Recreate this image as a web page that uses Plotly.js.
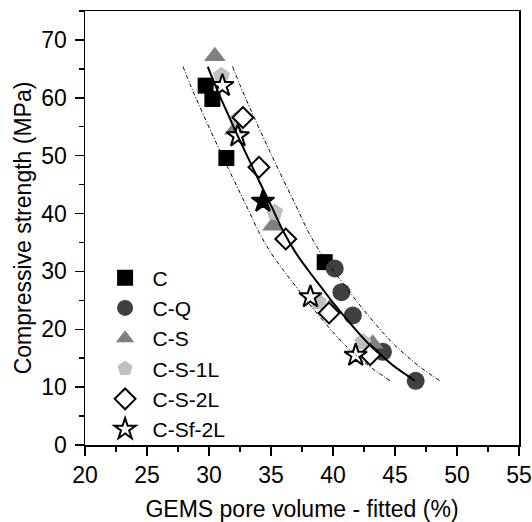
<!DOCTYPE html>
<html><head><meta charset="utf-8">
<script src="https://cdn.plot.ly/plotly-3.0.1.min.js"></script>
<style>html,body{margin:0;padding:0;background:#fff}</style>
</head><body><div id="chart" style="width:532px;height:522px"></div>
<script>
// Series: GEMS pore volume (%) vs compressive strength (MPa)
const seriesNames = ["C", "C-Q", "C-S", "C-S-1L", "C-S-2L", "C-Sf-2L"];
const cX = [29.73, 30.27, 31.4, 39.33];
const cY = [62.1, 59.8, 49.6, 31.6];
const cqX = [40.14, 40.68, 41.6, 44.03, 46.67];
const cqY = [30.5, 26.4, 22.4, 16.1, 11.1];
const csX = [30.47, 32.1, 35.16, 39.73, 43.2];
const csY = [67.2, 54.5, 37.9, 23.6, 17.5];
const cs1lX = [31.0, 32.3, 35.3, 38.8, 42.4];
const cs1lY = [63.8, 56.3, 40.2, 24.7, 17.8];
const cs2lX = [32.74, 34.03, 36.19, 39.68, 43.0];
const cs2lY = [56.6, 48.0, 35.6, 22.8, 15.6];
const csf2lX = [31.08, 32.33, 34.35, 38.18, 41.83];
const csf2lY = [62.1, 53.4, 42.1, 25.6, 15.5];
const csf2lFill = ["white", "white", "black", "white", "white"];

// Fitted curve and band
const fitX = [29.9, 30.5, 31, 31.5, 32, 33, 34, 35, 36, 37, 38, 39, 40, 41, 42, 43, 44, 45, 46, 46.6];
const fitY = [65.4, 62.2, 59.7, 57.3, 54.9, 50.3, 45.8, 41.4, 36.9, 33.2, 30.2, 27.4, 24.6, 22.0, 19.5, 17.2, 15.3, 13.5, 12.0, 11.1];
const upperX = [31.9, 32.5, 33, 33.5, 34, 35, 36, 37, 38, 39, 40, 41, 42, 43, 44, 45, 46, 47, 48, 48.6];
const lowerX = [27.9, 28.5, 29, 29.5, 30, 31, 32, 33, 34, 35, 36, 37, 38, 39, 40, 41, 42, 43, 44, 44.6];

const xTicks = [20, 25, 30, 35, 40, 45, 50, 55];
const yTicks = [0, 10, 20, 30, 40, 50, 60, 70];

const FONT = "Arial, 'Liberation Sans', sans-serif";

function mk(name, x, y, symbol, size, color, lineColor, lineWidth) {
  return {
    type: "scatter", mode: "markers", name: name, x: x, y: y,
    marker: { symbol: symbol, size: size, color: color,
      line: { color: lineColor, width: lineWidth } },
    cliponaxis: false
  };
}

const traces = [
  mk(seriesNames[0], cX, cY, "square", 16, "#000000", "#000000", 0),
  mk(seriesNames[1], cqX, cqY, "circle", 18, "#404040", "#404040", 0),
  mk(seriesNames[2], csX, csY, "triangle-up", 19, "#808080", "#808080", 0),
  mk(seriesNames[3], cs1lX, cs1lY, "pentagon", 18, "#c0c0c0", "#c0c0c0", 0),
  mk(seriesNames[4], cs2lX, cs2lY, "diamond", 16, "#ffffff", "#000000", 2),
  mk(seriesNames[5], csf2lX, csf2lY, "star", 17, csf2lFill, "#000000", 2),
  { type: "scatter", mode: "lines", x: lowerX, y: fitY, showlegend: false,
    line: { color: "#000", width: 1, dash: "4px,2px,1px,2px", shape: "spline" }, hoverinfo: "skip" },
  { type: "scatter", mode: "lines", x: upperX, y: fitY, showlegend: false,
    line: { color: "#000", width: 1, dash: "4px,2px,1px,2px", shape: "spline" }, hoverinfo: "skip" },
  { type: "scatter", mode: "lines", x: fitX, y: fitY, showlegend: false,
    line: { color: "#000", width: 2, shape: "spline" }, hoverinfo: "skip" }
];

const layout = {
  width: 532, height: 522,
  margin: { l: 85, r: 13, t: 11, b: 77 },
  paper_bgcolor: "#fff", plot_bgcolor: "#fff",
  font: { family: FONT, color: "#000", size: 21 },
  showlegend: true,
  legend: { x: 0.029, y: 0.432, xanchor: "left", yanchor: "top",
    bgcolor: "rgba(0,0,0,0)", borderwidth: 0, font: { size: 21, family: FONT },
    itemwidth: 45, tracegroupgap: 0 },
  xaxis: {
    range: [20, 55], tickvals: xTicks, ticktext: xTicks.map(String),
    ticks: "outside", ticklen: 9, tickwidth: 1.5, tickcolor: "#000",
    showline: true, linewidth: 1.5, linecolor: "#000", mirror: true,
    showgrid: false, zeroline: false,
    tickfont: { size: 23, family: FONT },
    minor: { dtick: 2.5, tick0: 20, ticks: "outside", ticklen: 5, tickwidth: 1.5, tickcolor: "#000", showgrid: false },
    title: { text: "GEMS pore volume - fitted (%)", font: { size: 23, family: FONT }, standoff: 14 }
  },
  yaxis: {
    range: [0, 75], tickvals: yTicks, ticktext: yTicks.map(String),
    ticks: "outside", ticklen: 9, tickwidth: 1.5, tickcolor: "#000",
    showline: true, linewidth: 1.5, linecolor: "#000", mirror: true,
    showgrid: false, zeroline: false,
    tickfont: { size: 23, family: FONT },
    ticklabelstandoff: 3,
    minor: { dtick: 5, tick0: 0, ticks: "outside", ticklen: 5, tickwidth: 1.5, tickcolor: "#000", showgrid: false },
    title: { text: "Compressive strength (MPa)", font: { size: 23, family: FONT }, standoff: 3 }
  }
};

Plotly.newPlot("chart", traces, layout, { displayModeBar: false, staticPlot: true });
</script></body></html>
